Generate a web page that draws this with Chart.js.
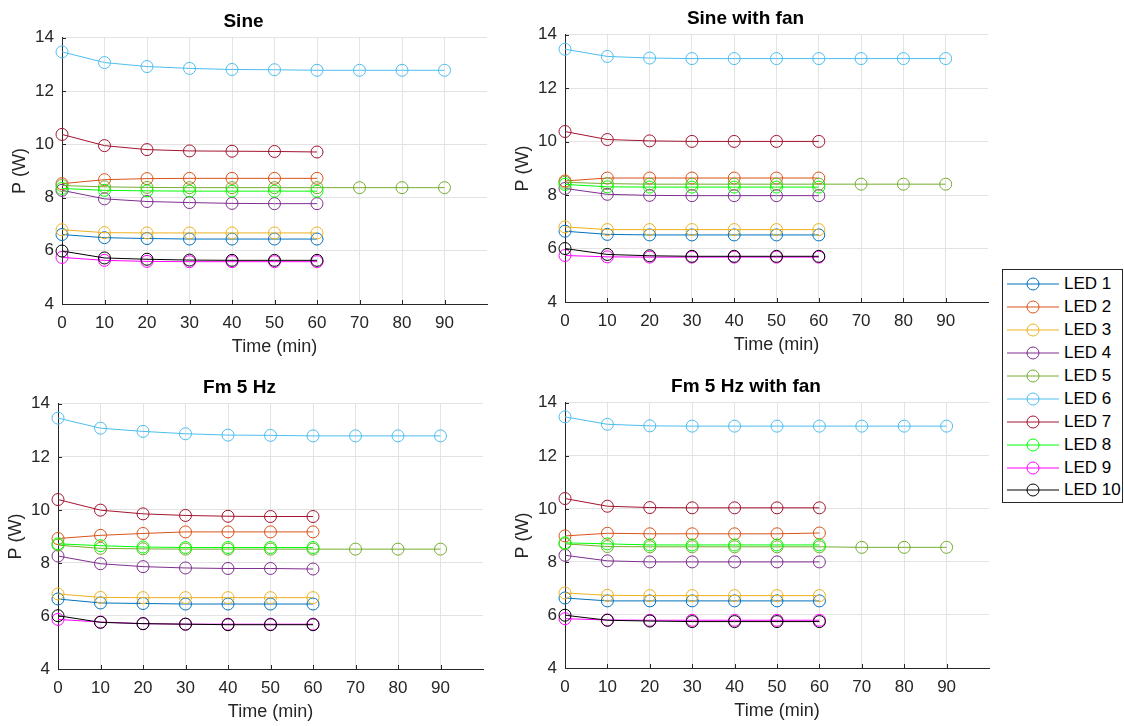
<!DOCTYPE html>
<html>
<head>
<meta charset="utf-8">
<script src="https://cdn.jsdelivr.net/npm/chart.js@4/dist/chart.umd.min.js"></script>
<style>
  body { margin: 0; background: #fff; width: 1124px; height: 726px; overflow: hidden; position: relative; font-family: "Liberation Sans", Arial, sans-serif; }
  .box { position: absolute; }
  #legend { position: absolute; left: 1002px; top: 269px; width: 121px; height: 234px; border: 1px solid #262626; background: #fff; padding-top: 3px; box-sizing: border-box; }
  .row { height: 22.9px; display: flex; align-items: center; font-size: 17px; color: #000; }
  .row svg { margin-left: 4px; margin-right: 5px; }
</style>
</head>
<body>
<div class="box" style="left:0px;top:0px;width:500px;height:360px"><canvas id="c1"></canvas></div>
<div class="box" style="left:503px;top:-3px;width:498px;height:361px"><canvas id="c2"></canvas></div>
<div class="box" style="left:-4px;top:366px;width:500px;height:359px"><canvas id="c3"></canvas></div>
<div class="box" style="left:503px;top:365px;width:499px;height:359px"><canvas id="c4"></canvas></div>
<div id="legend"></div>
<script>
// Data
const ledNames = ['LED 1', 'LED 2', 'LED 3', 'LED 4', 'LED 5', 'LED 6', 'LED 7', 'LED 8', 'LED 9', 'LED 10'];
const ledColors = ['#0072BD', '#D95319', '#EDB120', '#7E2F8E', '#77AC30', '#4DBEEE', '#A2142F', '#00FF00', '#FF00FF', '#000000'];
const time60 = [0, 10, 20, 30, 40, 50, 60];
const time90 = [0, 10, 20, 30, 40, 50, 60, 70, 80, 90];
const longRun = [4, 5]; // LED 5 and LED 6 run to 90 min
const xTicks = [0, 10, 20, 30, 40, 50, 60, 70, 80, 90];
const yTicks = [4, 6, 8, 10, 12, 14];

const sine = [
  [6.61, 6.49, 6.46, 6.44, 6.44, 6.44, 6.44],
  [8.52, 8.67, 8.71, 8.72, 8.72, 8.72, 8.72],
  [6.79, 6.68, 6.67, 6.67, 6.67, 6.67, 6.67],
  [8.27, 7.95, 7.85, 7.81, 7.78, 7.77, 7.77],
  [8.45, 8.40, 8.38, 8.37, 8.37, 8.37, 8.37, 8.37, 8.37, 8.37],
  [13.47, 13.07, 12.92, 12.85, 12.81, 12.80, 12.78, 12.78, 12.78, 12.78],
  [10.37, 9.95, 9.80, 9.75, 9.74, 9.73, 9.71],
  [8.34, 8.27, 8.25, 8.24, 8.24, 8.24, 8.24],
  [5.75, 5.64, 5.60, 5.59, 5.59, 5.59, 5.59],
  [5.99, 5.73, 5.68, 5.65, 5.64, 5.64, 5.64]
];
const sineFan = [
  [6.65, 6.53, 6.51, 6.51, 6.51, 6.51, 6.51],
  [8.53, 8.64, 8.64, 8.64, 8.64, 8.64, 8.64],
  [6.81, 6.71, 6.71, 6.71, 6.71, 6.71, 6.71],
  [8.25, 8.03, 7.99, 7.98, 7.98, 7.98, 7.98],
  [8.48, 8.43, 8.41, 8.41, 8.41, 8.41, 8.41, 8.41, 8.41, 8.41],
  [13.46, 13.19, 13.13, 13.11, 13.11, 13.11, 13.11, 13.11, 13.11, 13.11],
  [10.38, 10.08, 10.03, 10.01, 10.01, 10.01, 10.01],
  [8.40, 8.31, 8.30, 8.30, 8.30, 8.30, 8.30],
  [5.74, 5.69, 5.68, 5.68, 5.68, 5.68, 5.68],
  [6.00, 5.78, 5.73, 5.71, 5.71, 5.71, 5.71]
];
const fm5 = [
  [6.64, 6.49, 6.47, 6.45, 6.45, 6.45, 6.45],
  [8.92, 9.04, 9.11, 9.17, 9.17, 9.17, 9.17],
  [6.83, 6.70, 6.69, 6.69, 6.69, 6.69, 6.69],
  [8.26, 7.97, 7.86, 7.81, 7.79, 7.79, 7.77],
  [8.67, 8.55, 8.53, 8.52, 8.52, 8.52, 8.52, 8.52, 8.52, 8.52],
  [13.46, 13.08, 12.96, 12.87, 12.82, 12.81, 12.79, 12.79, 12.79, 12.79],
  [10.39, 9.99, 9.85, 9.79, 9.76, 9.75, 9.75],
  [8.72, 8.65, 8.60, 8.58, 8.58, 8.58, 8.58],
  [5.87, 5.77, 5.71, 5.69, 5.69, 5.69, 5.69],
  [6.01, 5.76, 5.71, 5.69, 5.67, 5.67, 5.67]
];
const fm5Fan = [
  [6.64, 6.53, 6.53, 6.53, 6.53, 6.53, 6.53],
  [8.98, 9.08, 9.06, 9.06, 9.06, 9.06, 9.09],
  [6.83, 6.74, 6.73, 6.73, 6.73, 6.73, 6.73],
  [8.25, 8.04, 8.00, 8.00, 8.00, 8.00, 8.00],
  [8.68, 8.58, 8.57, 8.57, 8.57, 8.57, 8.57, 8.55, 8.55, 8.55],
  [13.47, 13.19, 13.13, 13.12, 13.12, 13.12, 13.12, 13.12, 13.12, 13.12],
  [10.39, 10.10, 10.05, 10.04, 10.04, 10.04, 10.04],
  [8.72, 8.68, 8.64, 8.64, 8.64, 8.64, 8.64],
  [5.86, 5.81, 5.80, 5.80, 5.80, 5.80, 5.80],
  [5.99, 5.80, 5.77, 5.75, 5.75, 5.75, 5.75]
];

const fontFamily = '"Liberation Sans", Arial, sans-serif';
const axisColor = '#262626';

// MATLAB style ticks pointing into the plot area
const innerTicks = {
  id: 'innerTicks',
  afterDraw(chart) {
    const { ctx, chartArea, scales } = chart;
    ctx.save();
    ctx.strokeStyle = axisColor;
    ctx.lineWidth = 1;
    ctx.beginPath();
    scales.x.ticks.forEach(t => {
      const px = Math.round(scales.x.getPixelForValue(t.value)) + 0.5;
      ctx.moveTo(px, chartArea.bottom);
      ctx.lineTo(px, chartArea.bottom - 4);
    });
    scales.y.ticks.forEach(t => {
      const py = Math.round(scales.y.getPixelForValue(t.value)) + 0.5;
      ctx.moveTo(chartArea.left, py);
      ctx.lineTo(chartArea.left + 4, py);
    });
    ctx.stroke();
    ctx.restore();
  }
};

function buildDatasets(values) {
  return values.map((vals, i) => {
    const times = longRun.includes(i) ? time90 : time60;
    return {
      label: ledNames[i],
      data: vals.map((v, k) => ({ x: times[k], y: v })),
      borderColor: ledColors[i],
      borderWidth: 1,
      pointRadius: 6,
      pointBorderWidth: 1,
      pointBorderColor: ledColors[i],
      pointBackgroundColor: 'rgba(0,0,0,0)',
      tension: 0,
      fill: false,
      clip: false,
      order: 10 - i
    };
  });
}

function makeChart(id, title, values) {
  return new Chart(document.getElementById(id), {
    type: 'line',
    data: { datasets: buildDatasets(values) },
    options: {
      responsive: true,
      maintainAspectRatio: false,
      animation: false,
      layout: { padding: { left: 0, right: 13, top: 0, bottom: 0 } },
      plugins: {
        legend: { display: false },
        tooltip: { enabled: false },
        title: {
          display: true,
          text: title,
          color: '#000',
          font: { family: fontFamily, size: 19, weight: 'bold', lineHeight: 1.2 },
          padding: { top: 10, bottom: 5 }
        }
      },
      scales: {
        x: {
          type: 'linear',
          min: 0,
          max: 100,
          afterBuildTicks: s => { s.ticks = xTicks.map(v => ({ value: v })); },
          afterFit: s => { s.height = 56; },
          grid: { color: '#e3e3e3', drawTicks: false },
          border: { color: axisColor, width: 1 },
          ticks: { color: axisColor, padding: 9, maxRotation: 0, font: { family: fontFamily, size: 17 } },
          title: {
            display: true,
            text: 'Time (min)',
            color: axisColor,
            font: { family: fontFamily, size: 18, lineHeight: 1.2 },
            padding: { top: 0, bottom: 2 }
          }
        },
        y: {
          min: 4,
          max: 14,
          afterBuildTicks: s => { s.ticks = yTicks.map(v => ({ value: v })); },
          afterFit: s => { s.width = 62; },
          grid: { color: '#e3e3e3', drawTicks: false },
          border: { color: axisColor, width: 1 },
          ticks: { color: axisColor, padding: 8, font: { family: fontFamily, size: 17 } },
          title: {
            display: true,
            text: 'P (W)',
            color: axisColor,
            font: { family: fontFamily, size: 18, lineHeight: 1.2 },
            padding: { top: 9, bottom: 0 }
          }
        }
      }
    },
    plugins: [innerTicks]
  });
}

makeChart('c1', 'Sine', sine);
makeChart('c2', 'Sine with fan', sineFan);
makeChart('c3', 'Fm 5 Hz', fm5);
makeChart('c4', 'Fm 5 Hz with fan', fm5Fan);

// Legend
const legend = document.getElementById('legend');
ledNames.forEach((name, i) => {
  const row = document.createElement('div');
  row.className = 'row';
  row.innerHTML =
    '<svg width="52" height="14"><line x1="0" y1="7" x2="52" y2="7" stroke="' + ledColors[i] + '" stroke-width="1"/>' +
    '<circle cx="26" cy="7" r="6" fill="none" stroke="' + ledColors[i] + '" stroke-width="1"/></svg>' +
    '<span>' + name + '</span>';
  legend.appendChild(row);
});
</script>
</body>
</html>
